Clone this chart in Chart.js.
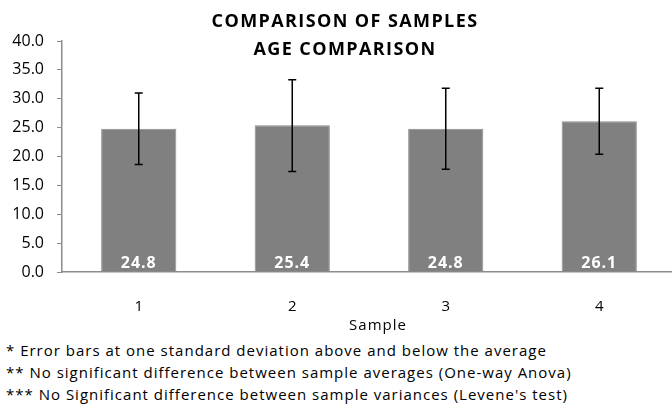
<!DOCTYPE html>
<html>
<head>
<meta charset="utf-8">
<script src="https://cdn.jsdelivr.net/npm/chart.js@4.4.1/dist/chart.umd.min.js"></script>
<style>
  html, body { margin: 0; padding: 0; background: #fff; overflow: hidden; }
  #wrap { position: relative; width: 672px; height: 406px; overflow: hidden; }
  #box { position: absolute; left: 0; top: 0; width: 678px; height: 322px; }
  .title { position: absolute; left: 0; width: 690px; text-align: center; font: bold 18px "Open Sans", sans-serif; letter-spacing: 1.4px; color: #000; }
  .note { position: absolute; left: 6px; font: 15px "Open Sans", sans-serif; letter-spacing: 1px; color: #000; white-space: nowrap; }
  .axis-title { position: absolute; left: 0; width: 756px; text-align: center; font: 15px "Open Sans", sans-serif; letter-spacing: 1px; color: #000; }
</style>
</head>
<body>
<div id="wrap">
  <div id="box"><canvas id="chart"></canvas></div>
  <div class="title" style="top: 8px;">COMPARISON OF SAMPLES</div>
  <div class="title" style="top: 36px;">AGE COMPARISON</div>
  <div class="axis-title" style="top: 314px;">Sample</div>
  <div class="note" style="top: 340px;">* Error bars at one standard deviation above and below the average</div>
  <div class="note" style="top: 362px;">** No significant difference between sample averages (One-way Anova)</div>
  <div class="note" style="top: 384px;">*** No Significant difference between sample variances (Levene's test)</div>
</div>
<script>
const samples = ['1', '2', '3', '4'];
const averages = [24.8, 25.4, 24.8, 26.1];
const errLow = [18.6, 17.4, 17.8, 20.4];
const errHigh = [31.0, 33.3, 31.8, 31.8];
const yTicks = [0, 5, 10, 15, 20, 25, 30, 35, 40];

const FONT = '"Open Sans", sans-serif';

// error bars + value labels drawn over the bars
const barExtras = {
  id: 'barExtras',
  afterDatasetsDraw(chart) {
    const ctx = chart.ctx;
    const y = chart.scales.y;
    const meta = chart.getDatasetMeta(0);
    ctx.save();
    meta.data.forEach((bar, i) => {
      const yt = y.getPixelForValue(errHigh[i]);
      const yb = y.getPixelForValue(errLow[i]);
      ctx.strokeStyle = '#000';
      ctx.lineWidth = 1.5;
      ctx.beginPath();
      ctx.moveTo(bar.x, yt); ctx.lineTo(bar.x, yb);
      ctx.moveTo(bar.x - 4, yt); ctx.lineTo(bar.x + 4, yt);
      ctx.moveTo(bar.x - 4, yb); ctx.lineTo(bar.x + 4, yb);
      ctx.stroke();

      ctx.fillStyle = '#fff';
      ctx.font = 'bold 16px ' + FONT;
      if ('letterSpacing' in ctx) ctx.letterSpacing = '1px';
      ctx.textAlign = 'center';
      ctx.textBaseline = 'middle';
      ctx.fillText(averages[i].toFixed(1), bar.x, y.getPixelForValue(0) - 9);
    });
    ctx.restore();
  },
};

new Chart(document.getElementById('chart'), {
  type: 'bar',
  data: {
    labels: samples,
    datasets: [{
      data: averages,
      backgroundColor: '#808080',
      borderColor: '#8c8c8c',
      borderWidth: 1,
      categoryPercentage: 1,
      barPercentage: 0.49,
    }],
  },
  options: {
    responsive: true,
    maintainAspectRatio: false,
    animation: false,
    layout: { padding: { top: 41, right: 2, left: 0, bottom: 0 } },
    plugins: { legend: { display: false }, tooltip: { enabled: false }, title: { display: false } },
    scales: {
      x: {
        afterFit(scale) { scale.height = 50; },
        grid: { display: false, drawTicks: false },
        border: { color: '#8c8c8c', width: 1.5 },
        ticks: { color: '#000', font: { family: FONT, size: 15 }, padding: 26 },
      },
      y: {
        min: 0,
        max: 40,
        afterFit(scale) { scale.width = 62; },
        afterBuildTicks(scale) { scale.ticks = yTicks.map((v) => ({ value: v })); },
        grid: { drawOnChartArea: false, drawTicks: true, tickLength: 5, color: '#8c8c8c' },
        border: { color: '#8c8c8c', width: 1.5 },
        ticks: { color: '#000', font: { family: FONT, size: 16 }, padding: 13, callback: (v) => Number(v).toFixed(1) },
      },
    },
  },
  plugins: [barExtras],
});
</script>
</body>
</html>
